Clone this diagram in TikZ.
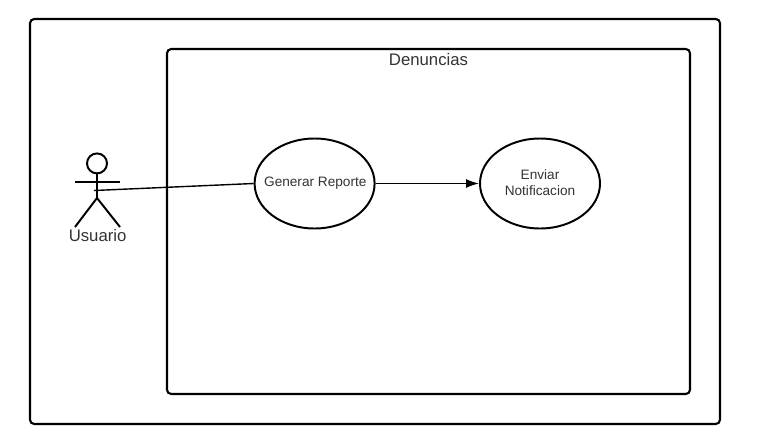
\documentclass[tikz,border=0pt]{standalone}
\usepackage{fontspec}
\setmainfont{Liberation Sans}
\definecolor{inkgray}{RGB}{51,51,51}
\usetikzlibrary{positioning, arrows.meta, shapes.geometric}

\begin{document}
\begin{tikzpicture}[
    frame/.style={draw=black, line width=1.5pt, rounded corners=3pt},
    usecase/.style={ellipse, draw=black, line width=1.4pt, minimum width=3cm,
      minimum height=2.25cm, inner sep=0pt, align=center, text=inkgray,
      font=\fontsize{9.7}{11.4}\selectfont},
    stick/.style={draw=black, line width=1.4pt},
    biglabel/.style={text=inkgray, inner sep=0pt, font=\fontsize{11.9}{14}\selectfont},
    link/.style={draw=black, line width=1pt},
  ]
    \useasboundingbox (0, 0) rectangle (19.3, -11.05);

    \node[frame, minimum width=17.25cm, minimum height=10.125cm] (system) at (9.375, -5.5375) {};
    \node[frame, minimum width=13.075cm, minimum height=8.625cm] (denuncias) at (10.7125, -5.5375) {};
    \node[biglabel, below=0.14cm of denuncias.north] (title) {Denuncias};

    \node[usecase] (reporte) at (7.865, -4.5875) {\makebox[0pt]{\hspace{1pt}\raisebox{-1.5pt}{Generar Reporte}}};
    \node[usecase] (notificacion) at (13.5, -4.5875) {\raisebox{1.5pt}{Enviar}\\\raisebox{1.5pt}{Notificacion}};

    % actor
    \node[stick, circle, minimum size=0.5cm, inner sep=0pt] (head) at (2.425, -4.085) {};
    \coordinate (hip) at (2.425, -4.95);
    \coordinate (armL) at (1.875, -4.55);
    \coordinate (armR) at (3.0, -4.55);
    \coordinate (legL) at (1.875, -5.675);
    \coordinate (legR) at (3.0, -5.675);
    \coordinate (hand) at (2.35, -4.7625);
    \draw[stick] (head.south) -- (hip);
    \draw[stick] (armL) -- (armR);
    \draw[stick] (legL) -- (hip) -- (legR);
    \node[biglabel] (usuario) at (2.44, -5.9) {Usuario};

    \draw[link] (hand) -- (reporte.west);
    \draw[link, -{Latex[length=0.32cm, width=0.22cm]}] (reporte.east) -- (notificacion.west);
  \end{tikzpicture}
\end{document}
